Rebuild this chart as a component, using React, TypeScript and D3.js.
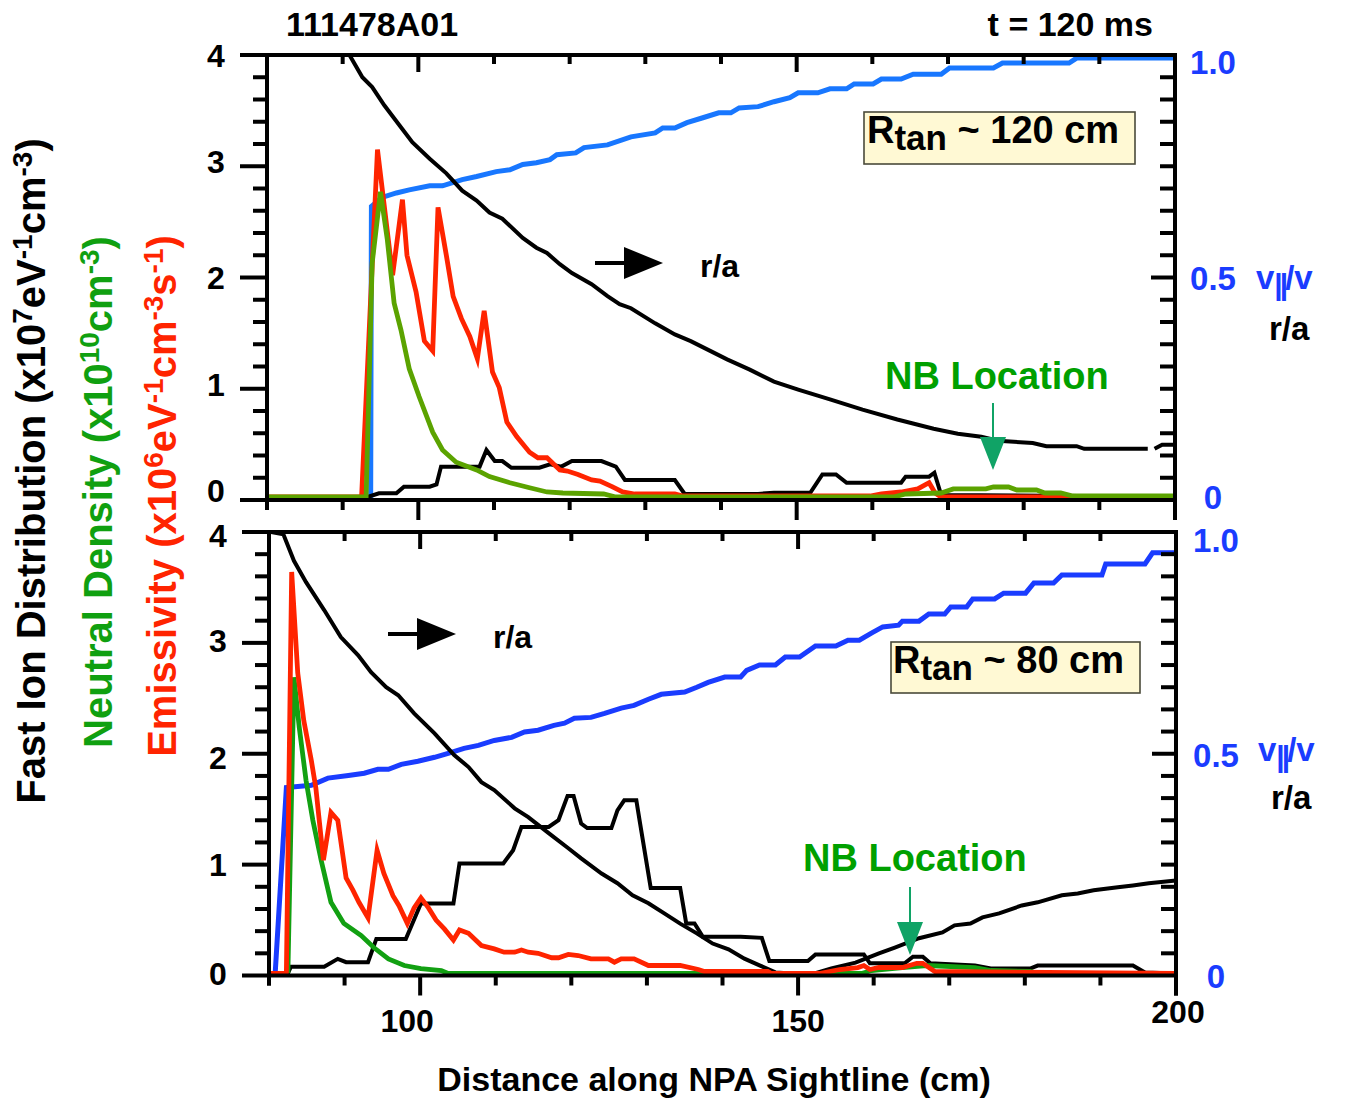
import React from 'react';
import * as d3 from 'd3';

type Pt = [number, number];

const FONT = "'Liberation Sans', Arial, Helvetica, sans-serif";

// ---------- TOP PANEL (Rtan ~ 120 cm) ----------
// v||/v (right axis)
const topVpar: Pt[] = [
  [80, 0.005], [93.7, 0.005], [93.8, 0.66], [95.2, 0.68], [97.1, 0.69], [98.8, 0.697], [101.5, 0.706],
  [103.2, 0.706], [105.8, 0.72], [107.7, 0.727], [110.3, 0.738], [112.1, 0.742], [113.8, 0.754],
  [115.6, 0.758], [117.4, 0.765], [118.3, 0.776], [120.8, 0.78], [121.9, 0.792], [125, 0.798],
  [128.1, 0.816], [131.3, 0.825], [132.3, 0.836], [133.9, 0.836], [135.5, 0.848], [137.6, 0.859],
  [139.7, 0.87], [141.3, 0.87], [142.4, 0.881], [144.9, 0.884], [147, 0.895], [149.1, 0.904],
  [150.2, 0.915], [152.8, 0.915], [154.4, 0.924], [156.6, 0.924], [157.6, 0.935], [160.1, 0.935],
  [161.2, 0.946], [163.8, 0.946], [165.4, 0.957], [169.1, 0.957], [170.2, 0.971], [176, 0.971],
  [177.2, 0.982], [186, 0.982], [187, 0.993], [200, 0.993],
];
// r/a (right axis)
const topRa: Pt[] = [
  [90.9, 1.0], [92.6, 0.95], [93.9, 0.928], [95.5, 0.887], [97.5, 0.842], [99.2, 0.804], [101.5, 0.767],
  [103.7, 0.734], [105.8, 0.695], [107.7, 0.673], [109.4, 0.646], [111.1, 0.632], [113.8, 0.589],
  [115.6, 0.567], [117.0, 0.555], [118.7, 0.53], [120.3, 0.51], [122.9, 0.485], [125.0, 0.458],
  [126.6, 0.44], [128.1, 0.431], [131.3, 0.397], [133.9, 0.372], [136.0, 0.357], [138.7, 0.334],
  [140.8, 0.316], [143.8, 0.293], [147.0, 0.266], [150.2, 0.248], [154.4, 0.226], [158.7, 0.203],
  [163.3, 0.181], [168.1, 0.16], [171.3, 0.149], [174.4, 0.142], [176.6, 0.133], [181.2, 0.128],
  [183.0, 0.121], [187.0, 0.121], [188.0, 0.115], [196.4, 0.115], [196.8, NaN], [197.3, 0.115],
  [198.3, 0.124], [200, 0.124],
];
// Fast ion distribution (left axis)
const topFastIon: Pt[] = [
  [80, 0.025], [93.2, 0.025], [94.8, 0.06], [97.1, 0.06], [98.1, 0.12], [101.5, 0.12], [102.4, 0.14],
  [103.0, 0.30], [108.1, 0.30], [109.0, 0.45], [110.1, 0.35], [111.1, 0.35], [112.3, 0.29], [116.0, 0.29],
  [117.4, 0.32], [118.9, 0.30], [120.3, 0.35], [124.2, 0.35], [126.1, 0.30], [127.3, 0.18], [133.9, 0.18],
  [135.2, 0.055], [144.9, 0.055], [147.0, 0.065], [151.8, 0.065], [153.4, 0.23], [155.2, 0.23],
  [156.6, 0.155], [163.8, 0.155], [164.4, 0.21], [167.5, 0.21], [168.2, 0.245], [169.1, 0.045],
  [200, 0.03],
];
// Emissivity (left axis)
const topEmiss: Pt[] = [
  [80, 0.027], [92.5, 0.027], [94.6, 3.15], [96.6, 2.02], [97.9, 2.70], [98.5, 2.2], [99.7, 1.87],
  [100.8, 1.43], [101.9, 1.34], [102.6, 2.63], [103.7, 2.2], [104.6, 1.83], [105.7, 1.63], [106.8, 1.47],
  [107.8, 1.27], [108.7, 1.70], [109.8, 1.15], [110.7, 1.01], [111.7, 0.70], [113.0, 0.57], [114.7, 0.43],
  [115.8, 0.38], [117.0, 0.38], [118.7, 0.27], [119.7, 0.26], [121.1, 0.23], [122.9, 0.18], [124.0, 0.17],
  [125.6, 0.12], [127.0, 0.072], [128.6, 0.054], [133.9, 0.054], [135.0, 0.036], [159.7, 0.036],
  [161.2, 0.054], [163.8, 0.072], [166.0, 0.10], [167.5, 0.155], [168.3, 0.063], [169.1, 0.027],
  [200, 0.027],
];
// Neutral density (left axis)
const topNeutral: Pt[] = [
  [80, 0.027], [93.1, 0.027], [93.9, 2.13], [95.0, 2.77], [95.9, 2.34], [96.8, 1.77], [97.7, 1.53],
  [98.8, 1.18], [100.1, 0.93], [101.9, 0.61], [103.2, 0.45], [105.0, 0.34], [107.7, 0.27], [109.4, 0.21],
  [112.1, 0.155], [114.7, 0.11], [117.0, 0.072], [119.1, 0.063], [124.5, 0.054], [126.1, 0.027],
  [162.8, 0.027], [164.4, 0.054], [169.1, 0.063], [170.7, 0.10], [175.0, 0.10], [176.0, 0.117],
  [178.0, 0.117], [179.1, 0.09], [181.7, 0.09], [182.8, 0.063], [184.9, 0.063], [186.5, 0.036],
  [200, 0.036],
];

// ---------- BOTTOM PANEL (Rtan ~ 80 cm) ----------
const botVpar: Pt[] = [
  [80.8, 0.0], [82.3, 0.424], [85.6, 0.429], [87.8, 0.445], [90.5, 0.451], [92.6, 0.456], [94.4, 0.465],
  [95.8, 0.465], [97.5, 0.476], [99.7, 0.483], [101.9, 0.492], [103.7, 0.501], [105.8, 0.512],
  [107.7, 0.519], [109.8, 0.53], [112.1, 0.537], [113.8, 0.549], [115.6, 0.553], [117.7, 0.564],
  [119.1, 0.569], [120.4, 0.58], [122.6, 0.582], [124.4, 0.591], [126.6, 0.603], [128.3, 0.609],
  [130.2, 0.623], [131.9, 0.634], [135.0, 0.639], [136.6, 0.65], [138.1, 0.661], [140.3, 0.673],
  [142.4, 0.673], [143.2, 0.688], [144.9, 0.7], [147.0, 0.7], [148.3, 0.718], [150.2, 0.718],
  [152.3, 0.743], [155.0, 0.743], [156.6, 0.756], [158.1, 0.756], [159.7, 0.772], [161.2, 0.786],
  [163.3, 0.79], [163.8, 0.799], [166.0, 0.799], [167.3, 0.815], [169.4, 0.815], [170.2, 0.831],
  [172.3, 0.831], [173.1, 0.849], [176.0, 0.849], [177.2, 0.862], [180.1, 0.862], [181.2, 0.885],
  [183.8, 0.885], [184.9, 0.903], [190.2, 0.903], [190.7, 0.928], [195.9, 0.928], [196.9, 0.953],
  [200, 0.953],
];
const botRa: Pt[] = [
  [80.3, 1.0], [81.9, 0.995], [83.3, 0.935], [84.9, 0.887], [87.3, 0.824], [89.5, 0.763], [91.8, 0.722],
  [93.5, 0.684], [95.5, 0.65], [97.1, 0.632], [99.2, 0.591], [101.9, 0.546], [104.5, 0.497],
  [106.4, 0.47], [108.1, 0.436], [109.8, 0.418], [112.5, 0.377], [114.3, 0.357], [117.0, 0.321],
  [119.6, 0.287], [121.3, 0.264], [124.0, 0.23], [126.1, 0.208], [128.1, 0.181], [130.2, 0.163],
  [132.3, 0.14], [134.4, 0.117], [136.6, 0.095], [138.7, 0.072], [140.8, 0.059], [142.9, 0.038],
  [144.9, 0.023], [147.0, 0.007], [148.6, 0.005], [152.3, 0.005], [154.4, 0.016], [157.6, 0.029],
  [160.7, 0.05], [162.8, 0.063], [166.0, 0.084], [169.1, 0.097], [170.7, 0.113], [172.8, 0.117],
  [174.4, 0.131], [176.6, 0.14], [179.6, 0.158], [181.7, 0.165], [184.9, 0.181], [187.0, 0.185],
  [189.1, 0.192], [192.3, 0.199], [194.3, 0.203], [196.4, 0.208], [200, 0.214],
];
const botFastIon: Pt[] = [
  [80, 0.02], [82.5, 0.02], [82.9, 0.08], [87.3, 0.08], [89.1, 0.15], [90.2, 0.12], [93.1, 0.12],
  [94.2, 0.33], [98.1, 0.33], [100.1, 0.65], [104.4, 0.65], [105.2, 1.01], [111.0, 1.01], [112.3, 1.13],
  [113.4, 1.34], [117.0, 1.34], [118.3, 1.40], [119.5, 1.62], [120.3, 1.62], [121.3, 1.37],
  [122.1, 1.33], [125.3, 1.33], [126.1, 1.49], [127.0, 1.58], [128.6, 1.58], [129.1, 1.37],
  [130.5, 0.79], [134.4, 0.79], [135.2, 0.47], [136.3, 0.47], [137.4, 0.35], [142.4, 0.35],
  [145.2, 0.34], [146.2, 0.13], [151.3, 0.13], [152.3, 0.19], [158.7, 0.19], [159.5, 0.11],
  [164.1, 0.11], [165.2, 0.17], [166.5, 0.17], [167.5, 0.11], [173.4, 0.09], [175.5, 0.063],
  [180.7, 0.063], [181.7, 0.09], [194.3, 0.09], [195.9, 0.027], [200, 0.018],
];
const botEmiss: Pt[] = [
  [80, 0.02], [82.3, 0.02], [83.0, 3.64], [83.8, 2.73], [84.6, 2.30], [85.6, 1.94], [86.2, 1.69],
  [87.2, 1.04], [88.2, 1.47], [89.1, 1.40], [90.2, 0.88], [91.1, 0.77], [91.9, 0.66], [93.1, 0.52],
  [94.3, 1.13], [95.2, 0.92], [96.4, 0.72], [97.2, 0.63], [98.3, 0.47], [99.2, 0.61], [100.1, 0.70],
  [101.1, 0.61], [102.1, 0.50], [103.2, 0.42], [104.4, 0.32], [105.2, 0.41], [106.4, 0.38],
  [108.1, 0.27], [109.8, 0.24], [111.1, 0.21], [112.5, 0.21], [113.4, 0.23], [114.3, 0.21],
  [115.6, 0.20], [117.4, 0.16], [118.3, 0.16], [119.6, 0.19], [120.9, 0.18], [122.6, 0.15],
  [124.9, 0.15], [125.7, 0.12], [126.6, 0.15], [128.3, 0.15], [130.2, 0.09], [134.4, 0.09],
  [136.8, 0.054], [137.6, 0.036], [146.0, 0.036], [146.5, 0.018], [152.8, 0.018], [155.5, 0.054],
  [157.9, 0.072], [158.7, 0.09], [159.5, 0.054], [160.7, 0.072], [163.8, 0.072], [165.7, 0.11],
  [166.5, 0.11], [168.1, 0.036], [200, 0.018],
];
const botNeutral: Pt[] = [
  [82.5, 0.02], [83.3, 2.69], [84.0, 2.24], [84.9, 1.76], [85.8, 1.40], [86.9, 1.04], [88.2, 0.66],
  [89.9, 0.47], [92.2, 0.36], [93.9, 0.25], [95.8, 0.15], [97.9, 0.09], [100.1, 0.063], [102.8, 0.045],
  [103.7, 0.018], [158.4, 0.018], [159.7, 0.045], [163.8, 0.072], [167.0, 0.09], [173.4, 0.072],
  [175.5, 0.045], [180.7, 0.036], [181.7, 0.018], [200, 0.018],
];

// ---------- AXES ----------
const xDomain: [number, number] = [80, 200];
const yDomain: [number, number] = [0, 4];
const rDomain: [number, number] = [0, 1];
const xTickLabels = [100, 150, 200];
const yTickLabels = [0, 1, 2, 3, 4];
const rTickLabels = [
  { v: 0, t: '0' },
  { v: 0.5, t: '0.5' },
  { v: 1, t: '1.0' },
];

const BLUE_TXT = '#1a3cff';
const RED = '#ff2400';
const NB_GREEN = '#00a000';
const ARROW_GREEN = '#10a366';

interface Geom { left: number; right: number; top: number; bottom: number; }

interface Series { data: Pt[]; axis: 'L' | 'R'; color: string; width: number; }

interface PanelProps {
  id: string;
  g: Geom;
  series: Series[];
  yLabelOffsets: number[];
  rLabelOffsets: number[];
  rLabelX: number;
  showXLabels: boolean;
  xLabelPos: { dx: number; dy: number }[];
  children?: React.ReactNode;
}

function Panel({ id, g, series, yLabelOffsets, rLabelOffsets, rLabelX, showXLabels, xLabelPos, children }: PanelProps) {
  const x = d3.scaleLinear().domain(xDomain).range([g.left, g.right]);
  const yL = d3.scaleLinear().domain(yDomain).range([g.bottom, g.top]);
  const yR = d3.scaleLinear().domain(rDomain).range([g.bottom, g.top]);

  const mkLine = (axis: 'L' | 'R') =>
    d3.line<Pt>()
      .defined((d) => !isNaN(d[1]))
      .x((d) => x(d[0]))
      .y((d) => (axis === 'L' ? yL(d[1]) : yR(d[1])));

  const leftTicks = d3.range(0, 4.0001, 0.2);
  const rightTicks = d3.range(0.05, 0.99, 0.05);
  const topTicks = d3.range(90, 200, 10);
  const botTicks = d3.range(80, 200.1, 10);
  const isMajorX = (v: number) => Math.abs(v % 50) < 1e-6;

  return (
    <g>
      <defs>
        <clipPath id={`clip-${id}`}>
          <rect x={g.left} y={g.top - 3} width={g.right - g.left} height={g.bottom - g.top + 3} />
        </clipPath>
      </defs>
      <g clipPath={`url(#clip-${id})`}>
        {series.map((s, i) => (
          <path key={i} d={mkLine(s.axis)(s.data) || ''} fill="none" stroke={s.color}
            strokeWidth={s.width} strokeLinejoin="miter" strokeMiterlimit={6} />
        ))}
      </g>
      {children}
      {/* frame */}
      <g stroke="#000" strokeWidth={4} fill="none">
        <line x1={g.left - 27} x2={g.right + 2} y1={g.top} y2={g.top} />
        <line x1={g.left - 27} x2={g.right + 2} y1={g.bottom} y2={g.bottom} />
        <line x1={g.left} x2={g.left} y1={g.top - 2} y2={g.bottom + 10} />
        <line x1={g.right} x2={g.right} y1={g.top - 2} y2={g.bottom + 20} />
        {leftTicks.map((v, i) => {
          const major = Math.abs(v - Math.round(v)) < 1e-6;
          if (major && (Math.round(v) === 0 || Math.round(v) === 4)) return null;
          return <line key={`l${i}`} x1={g.left - (major ? 27 : 14)} x2={g.left} y1={yL(v)} y2={yL(v)} />;
        })}
        {rightTicks.map((v, i) => {
          const major = Math.abs(v - 0.5) < 1e-6;
          return <line key={`r${i}`} x1={g.right - (major ? 24 : 15)} x2={g.right} y1={yR(v)} y2={yR(v)} />;
        })}
        {topTicks.map((v) => (
          <line key={`t${v}`} x1={x(v)} x2={x(v)} y1={g.top} y2={g.top + (isMajorX(v) ? 17 : 9)} />
        ))}
        {botTicks.map((v) => (
          <line key={`b${v}`} x1={x(v)} x2={x(v)} y1={g.bottom} y2={g.bottom + (isMajorX(v) ? 20 : 10)} />
        ))}
      </g>
      {/* left tick labels */}
      <g fontFamily={FONT} fontWeight="bold" fontSize={32} fill="#000" textAnchor="middle">
        {yTickLabels.map((v, i) => (
          <text key={v} x={g.left - 51} y={yL(v) + 11.5 + yLabelOffsets[i]}>{v}</text>
        ))}
      </g>
      {/* right tick labels */}
      <g fontFamily={FONT} fontWeight="bold" fontSize={33} fill={BLUE_TXT} textAnchor="middle">
        {rTickLabels.map((r, i) => (
          <text key={r.t} x={rLabelX} y={yR(r.v) + 12 + rLabelOffsets[i]}>{r.t}</text>
        ))}
      </g>
      {showXLabels && (
        <g fontFamily={FONT} fontWeight="bold" fontSize={32} fill="#000" textAnchor="middle">
          {xTickLabels.map((v, i) => (
            <text key={v} x={x(v) + xLabelPos[i].dx} y={g.bottom + 56 + xLabelPos[i].dy}>{v}</text>
          ))}
        </g>
      )}
    </g>
  );
}

function RtanBox({ x, y, w, h, tx, ty, value }: { x: number; y: number; w: number; h: number; tx: number; ty: number; value: string }) {
  return (
    <g>
      <rect x={x} y={y} width={w} height={h} fill="#fff9d4" stroke="#4a4a3a" strokeWidth={1.6} />
      <text x={tx} y={ty} fontFamily={FONT} fontWeight="bold" fontSize={38} fill="#000">
        R<tspan fontSize={35} dy={7}>tan</tspan><tspan dy={-7}>{` ~ ${value} cm`}</tspan>
      </text>
    </g>
  );
}

function RaArrow({ x0, y, tx }: { x0: number; y: number; tx: number }) {
  return (
    <g>
      <line x1={x0} x2={x0 + 31} y1={y} y2={y} stroke="#000" strokeWidth={4} />
      <polygon points={`${x0 + 29},${y - 16} ${x0 + 68},${y} ${x0 + 29},${y + 16}`} fill="#000" />
      <text x={tx} y={y + 14} fontFamily={FONT} fontWeight="bold" fontSize={32} fill="#000">r/a</text>
    </g>
  );
}

function NBArrow({ x, y0, tipY, tx, ty }: { x: number; y0: number; tipY: number; tx: number; ty: number }) {
  return (
    <g>
      <text x={tx} y={ty} fontFamily={FONT} fontWeight="bold" fontSize={38} fill={NB_GREEN}>NB Location</text>
      <line x1={x} x2={x} y1={y0} y2={tipY - 30} stroke={ARROW_GREEN} strokeWidth={2} />
      <polygon points={`${x - 13},${tipY - 33} ${x + 13},${tipY - 33} ${x},${tipY}`} fill={ARROW_GREEN} />
    </g>
  );
}

function VparLabel({ x, y, ry }: { x: number; y: number; ry: number }) {
  return (
    <g fontFamily={FONT} fontWeight="bold">
      <text x={x} y={y} fontSize={33} fill={BLUE_TXT}>
        v<tspan fontSize={30} dy={6} letterSpacing={-3}>||</tspan><tspan dy={-6} fontSize={33}>/v</tspan>
      </text>
      <text x={x + 13} y={ry} fontSize={33} fill="#000">r/a</text>
    </g>
  );
}

export default function App() {
  const topG: Geom = { left: 267, right: 1175, top: 55, bottom: 500 };
  const botG: Geom = { left: 269, right: 1176, top: 532, bottom: 975.5 };

  const topSeries: Series[] = [
    { data: topVpar, axis: 'R', color: '#1877ff', width: 5 },
    { data: topRa, axis: 'R', color: '#000', width: 4 },
    { data: topFastIon, axis: 'L', color: '#000', width: 4 },
    { data: topEmiss, axis: 'L', color: RED, width: 4.8 },
    { data: topNeutral, axis: 'L', color: '#5ba300', width: 4.8 },
  ];
  const botSeries: Series[] = [
    { data: botVpar, axis: 'R', color: '#1a3cff', width: 5 },
    { data: botRa, axis: 'R', color: '#000', width: 4 },
    { data: botFastIon, axis: 'L', color: '#000', width: 4 },
    { data: botNeutral, axis: 'L', color: '#12a012', width: 4.8 },
    { data: botEmiss, axis: 'L', color: RED, width: 4.8 },
  ];

  const sup = (t: string, key: string) => (
    <React.Fragment key={key}>
      <tspan fontSize={28} dy={-13}>{t}</tspan>
    </React.Fragment>
  );

  return (
    <svg width={1348} height={1099} viewBox="0 0 1348 1099"
      style={{ position: 'absolute', left: 0, top: 0, background: '#fff' }}>
      <rect x={0} y={0} width={1348} height={1099} fill="#fff" />
      <text x={286} y={36} fontFamily={FONT} fontWeight="bold" fontSize={34}>111478A01</text>
      <text x={1153} y={36} fontFamily={FONT} fontWeight="bold" fontSize={34} textAnchor="end">t = 120 ms</text>

      <Panel id="top" g={topG} series={topSeries}
        yLabelOffsets={[-10, -4, 0, -5, 0]} rLabelOffsets={[-3, 0, 7]} rLabelX={1213}
        showXLabels={false} xLabelPos={[]}>
        <RtanBox x={864} y={112} w={271} h={52} tx={867} ty={143} value="120" />
        <RaArrow x0={595} y={263} tx={700} />
        <NBArrow x={993} y0={403} tipY={470} tx={885} ty={389} />
      </Panel>

      <Panel id="bot" g={botG} series={botSeries}
        yLabelOffsets={[-2, 0, 4, -2, 3]} rLabelOffsets={[0, 1, 8]} rLabelX={1216}
        showXLabels={true} xLabelPos={[{ dx: -13, dy: 0 }, { dx: 0, dy: 0 }, { dx: 2, dy: -9 }]}>
        <RtanBox x={891} y={642} w={249} h={51} tx={893} ty={673} value="80" />
        <RaArrow x0={388} y={634} tx={493} />
        <NBArrow x={910} y0={887} tipY={955} tx={803} ty={871} />
      </Panel>

      <VparLabel x={1256} y={289} ry={340} />
      <VparLabel x={1258} y={761} ry={809} />

      {/* Y axis titles */}
      <g fontFamily={FONT} fontWeight="bold" fontSize={40} textAnchor="middle">
        <text transform="translate(45,471) rotate(-90)" fill="#000">
          Fast Ion Distribution (x10{sup('7', 'a')}<tspan dy={13}>eV</tspan>{sup('-1', 'b')}<tspan dy={13}>cm</tspan>{sup('-3', 'c')}<tspan dy={13}>)</tspan>
        </text>
        <text transform="translate(112,492) rotate(-90)" fill="#10a010">
          Neutral Density (x10{sup('10', 'd')}<tspan dy={13}>cm</tspan>{sup('-3', 'e')}<tspan dy={13}>)</tspan>
        </text>
        <text transform="translate(176,496) rotate(-90)" fill={RED}>
          Emissivity (x10{sup('6', 'f')}<tspan dy={13}>eV</tspan>{sup('-1', 'g')}<tspan dy={13}>cm</tspan>{sup('-3', 'h')}<tspan dy={13}>s</tspan>{sup('-1', 'i')}<tspan dy={13}>)</tspan>
        </text>
      </g>

      <text x={714} y={1091} fontFamily={FONT} fontWeight="bold" fontSize={34} textAnchor="middle">
        Distance along NPA Sightline (cm)
      </text>
    </svg>
  );
}
